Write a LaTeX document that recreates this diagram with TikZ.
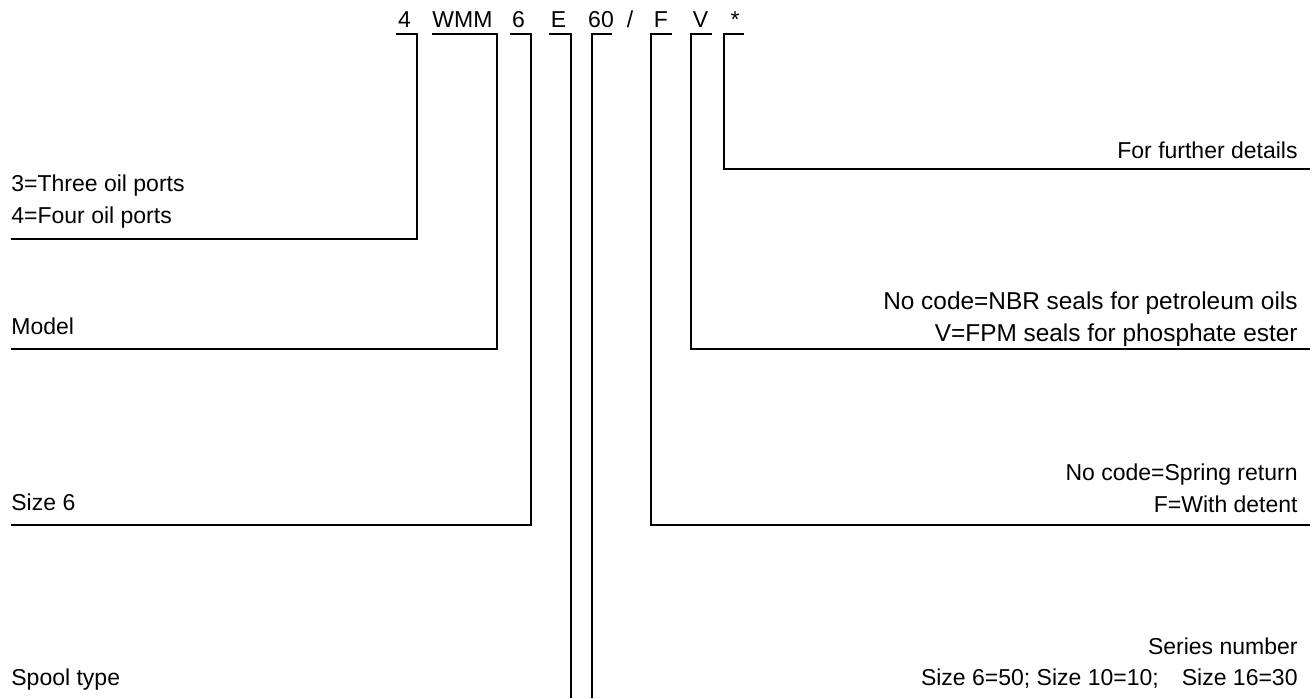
\documentclass[tikz,border=0pt]{standalone}
\usepackage{fontspec}
\setmainfont{Liberation Sans}

\begin{document}
\begin{tikzpicture}[x=0.5pt,y=-0.5pt]
	\tikzstyle{code}=[inner sep=0pt,anchor=base,font=\fontsize{11.5}{14}\selectfont]
	\tikzstyle{gauche}=[inner sep=0pt,anchor=base west,font=\fontsize{11.5}{14}\selectfont]
	\tikzstyle{droite}=[inner sep=0pt,anchor=base east,font=\fontsize{11.5}{14}\selectfont]
	\tikzstyle{large}=[font=\fontsize{12.2}{14}\selectfont]
	\tikzstyle{trait}=[line width=0.75pt]
	\useasboundingbox (0,0) rectangle (1315,698);
	\node[code] (c4) at (404.5,27){4};
	\node[code] (cwmm) at (462.5,27){WMM};
	\node[code] (c6) at (518.5,27){6};
	\node[code] (ce) at (558.5,27){E};
	\node[code] (c60) at (601,27){60};
	\node[code] (cslash) at (630,27){/};
	\node[code] (cf) at (661,27){F};
	\node[code] (cv) at (700.5,27){V};
	\node[code] (cstar) at (735,27){*};
	\node[gauche] (lports1) at (11,191.5){3=Three oil ports};
	\node[gauche] (lports2) at (11,223){4=Four oil ports};
	\node[gauche] (lmodel) at (11,334){Model};
	\node[gauche] (lsize) at (11,510){Size 6};
	\node[gauche] (lspool) at (11,685){Spool type};
	\node[droite] (ldetails) at (1298,158){For further details};
	\node[droite,large] (lseals1) at (1298,309){No code=NBR seals for petroleum oils};
	\node[droite,large] (lseals2) at (1298,341){V=FPM seals for phosphate ester};
	\node[droite] (lreturn1) at (1298,480){No code=Spring return};
	\node[droite] (lreturn2) at (1298,512.5){F=With detent};
	\node[droite] (lseries1) at (1298,654){Series number};
	\node[droite] (lseries2) at (1298,685.5){Size 6=50; Size 10=10;\hspace{1em}Size 16=30};
	\coordinate (b4a) at (396,34);
	\coordinate (b4b) at (417,34);
	\coordinate (bwmma) at (432,34);
	\coordinate (bwmmb) at (497,34);
	\coordinate (b6a) at (510,34);
	\coordinate (b6b) at (531,34);
	\coordinate (bea) at (549,34);
	\coordinate (beb) at (571,34);
	\coordinate (b60a) at (612,34);
	\coordinate (b60b) at (592,34);
	\coordinate (bfa) at (672,34);
	\coordinate (bfb) at (651,34);
	\coordinate (bva) at (712,34);
	\coordinate (bvb) at (691,34);
	\coordinate (bstara) at (744,34);
	\coordinate (bstarb) at (724,34);
	\coordinate (f4) at (11,239);
	\coordinate (fwmm) at (11,349);
	\coordinate (f6) at (11,525);
	\coordinate (fe) at (571,698);
	\coordinate (f60) at (592,698);
	\coordinate (ff) at (1310,525);
	\coordinate (fv) at (1310,349);
	\coordinate (fstar) at (1310,169);
	\draw[trait] (b4a) -- (b4b) |- (f4);
	\draw[trait] (bwmma) -- (bwmmb) |- (fwmm);
	\draw[trait] (b6a) -- (b6b) |- (f6);
	\draw[trait] (bea) -- (beb) -- (fe);
	\draw[trait] (b60a) -- (b60b) -- (f60);
	\draw[trait] (bfa) -- (bfb) |- (ff);
	\draw[trait] (bva) -- (bvb) |- (fv);
	\draw[trait] (bstara) -- (bstarb) |- (fstar);
\end{tikzpicture}
\end{document}
